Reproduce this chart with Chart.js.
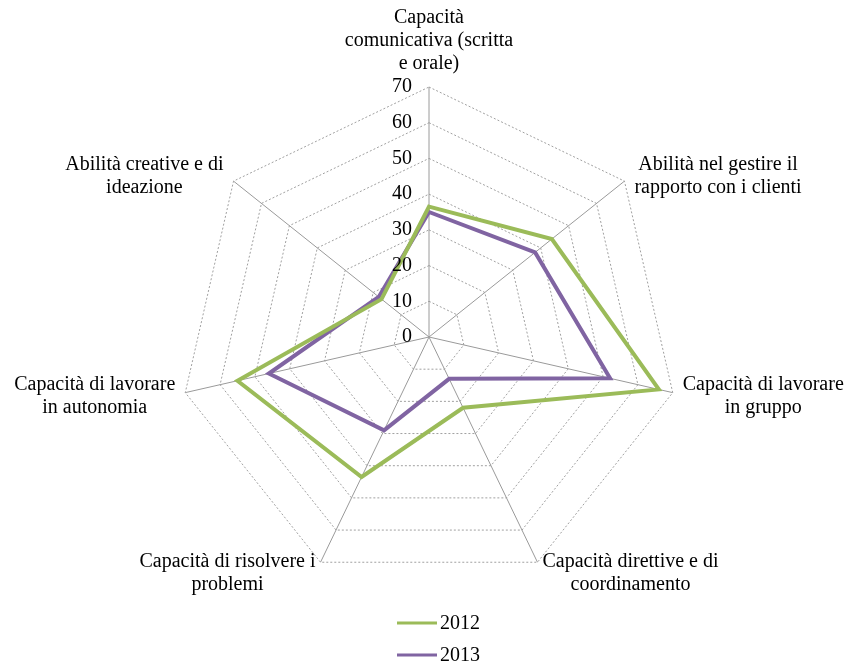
<!DOCTYPE html>
<html>
<head>
<meta charset="utf-8">
<script src="https://cdn.jsdelivr.net/npm/chart.js@4.4.1/dist/chart.umd.min.js"></script>
<style>
  html, body { margin: 0; padding: 0; background: #fff; overflow: hidden; }
  canvas { display: block; }
</style>
</head>
<body>
<canvas id="radarCanvas" width="851" height="664"></canvas>
<script>
// Skill categories, clockwise from the top (line breaks as in the original)
const categories = [
  ['Capacità', 'comunicativa (scritta', 'e orale)'],
  ['Abilità nel gestire il', 'rapporto con i clienti'],
  ['Capacità di lavorare', 'in gruppo'],
  ['Capacità direttive e di', 'coordinamento'],
  ['Capacità di risolvere i', 'problemi'],
  ['Capacità di lavorare', 'in autonomia'],
  ['Abilità creative e di', 'ideazione'],
];
const values2012 = [36.5, 44, 66, 22, 43.5, 55, 17];
const values2013 = [35, 38, 52, 13, 29, 46, 18];
const tickValues = [0, 10, 20, 30, 40, 50, 60, 70];

const FONT = '20px "Liberation Serif", "Times New Roman", serif';
const LINE_H = 23;

// Value labels drawn left of the top axis (Chart.js skips the 0 tick)
const tickLabelPlugin = {
  id: 'tickLabels',
  afterDraw(chart) {
    const scale = chart.scales.r;
    const ctx = chart.ctx;
    ctx.save();
    ctx.font = FONT;
    ctx.fillStyle = '#000';
    ctx.textAlign = 'right';
    ctx.textBaseline = 'middle';
    tickValues.forEach((v) => {
      const y = scale.yCenter - scale.getDistanceFromCenterForValue(v);
      ctx.fillText(String(v), scale.xCenter - 17, y);
    });
    ctx.restore();
  },
};

// Category labels placed outside each spoke, Excel style
const pointLabelPlugin = {
  id: 'outerLabels',
  afterDraw(chart) {
    const scale = chart.scales.r;
    const ctx = chart.ctx;
    ctx.save();
    ctx.font = FONT;
    ctx.fillStyle = '#000';
    ctx.textAlign = 'center';
    ctx.textBaseline = 'middle';
    chart.data.labels.forEach((lines, i) => {
      const angle = scale.getIndexAngle(i);
      const p = scale.getPointPosition(i, scale.drawingArea);
      const s = Math.sin(angle), c = Math.cos(angle);
      const w = Math.max(...lines.map((l) => ctx.measureText(l).width));
      const h = lines.length * LINE_H;
      let cx, cy;
      if (Math.abs(s) < 0.01) {
        cx = p.x;
        cy = p.y - 12 - h / 2;
      } else {
        const gap = c < -0.8 ? 5 : 10;
        cx = s > 0 ? p.x + gap + w / 2 : p.x - gap - w / 2;
        if (c < -0.8) cy = p.y + h / 2 - LINE_H / 2;
        else if (c > 0.5) cy = p.y - 5;
        else cy = p.y + 4;
      }
      lines.forEach((l, k) => ctx.fillText(l, cx, cy - h / 2 + LINE_H / 2 + k * LINE_H));
    });
    ctx.restore();
  },
};

// Stacked legend below the radar
const legendPlugin = {
  id: 'stackedLegend',
  afterDraw(chart) {
    const scale = chart.scales.r;
    const ctx = chart.ctx;
    ctx.save();
    ctx.font = FONT;
    ctx.textAlign = 'left';
    ctx.textBaseline = 'middle';
    chart.data.datasets.forEach((ds, i) => {
      const y = chart.chartArea.bottom + 36 + i * 32;
      const x0 = scale.xCenter - 32;
      ctx.strokeStyle = ds.borderColor;
      ctx.lineWidth = 3;
      ctx.beginPath();
      ctx.moveTo(x0, y);
      ctx.lineTo(x0 + 40, y);
      ctx.stroke();
      ctx.fillStyle = '#000';
      ctx.fillText(ds.label, x0 + 43, y + 1);
    });
    ctx.restore();
  },
};

new Chart(document.getElementById('radarCanvas'), {
  type: 'radar',
  data: {
    labels: categories,
    datasets: [
      {
        label: '2012',
        data: values2012,
        borderColor: '#9bbb59',
        backgroundColor: '#9bbb59',
        borderWidth: 4,
        fill: false,
        pointRadius: 0,
        pointHoverRadius: 0,
      },
      {
        label: '2013',
        data: values2013,
        borderColor: '#8064a2',
        backgroundColor: '#8064a2',
        borderWidth: 4,
        fill: false,
        pointRadius: 0,
        pointHoverRadius: 0,
      },
    ],
  },
  options: {
    responsive: false,
    animation: false,
    layout: { padding: { top: 87, bottom: 77, left: 7, right: 0 } },
    plugins: {
      legend: { display: false },
      tooltip: { enabled: false },
    },
    elements: { line: { tension: 0 } },
    scales: {
      r: {
        min: 0,
        max: 70,
        ticks: { stepSize: 10, display: false },
        pointLabels: { display: false },
        grid: { color: '#a0a0a0', lineWidth: 1 },
        border: { dash: [2, 2] },
        angleLines: { color: '#9a9a9a', lineWidth: 1 },
      },
    },
  },
  plugins: [tickLabelPlugin, pointLabelPlugin, legendPlugin],
});
</script>
</body>
</html>
